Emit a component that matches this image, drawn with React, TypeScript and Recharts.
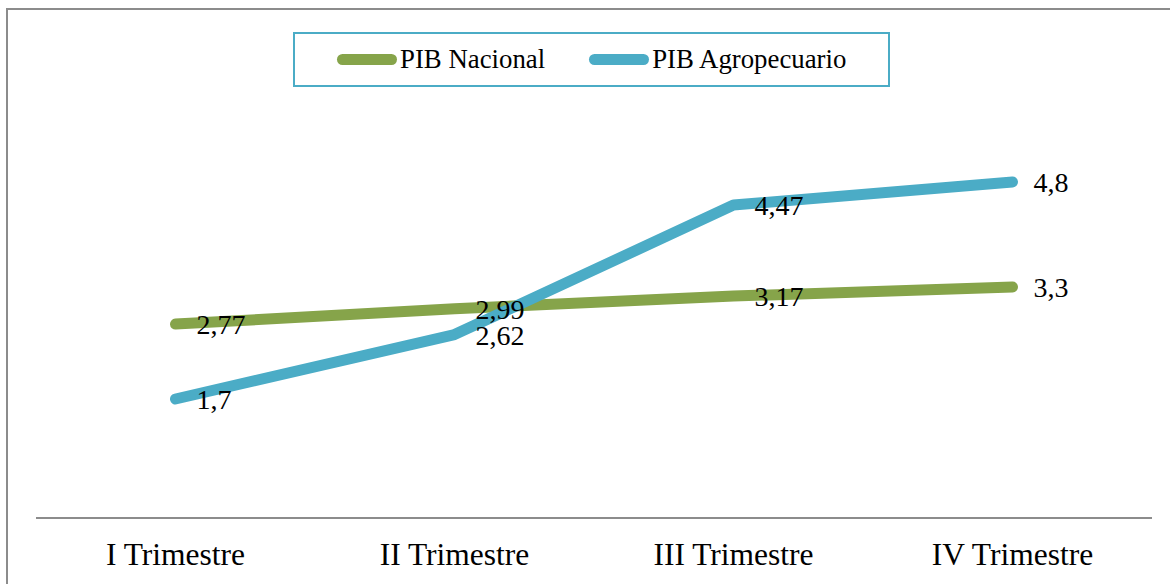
import { LineChart, Line, XAxis, YAxis, Legend, LabelList } from "recharts";

const trimestres = ["I Trimestre", "II Trimestre", "III Trimestre", "IV Trimestre"];
const pibNacional = [2.77, 2.99, 3.17, 3.3];
const pibAgro = [1.7, 2.62, 4.47, 4.8];
const seriesNames = ["PIB Nacional", "PIB Agropecuario"];

const GREEN = "#86A44A";
const BLUE = "#4BACC6";
const FONT = "'Liberation Serif', 'Times New Roman', serif";

const data = trimestres.map((t, i) => ({
  name: t,
  nacional: pibNacional[i],
  agro: pibAgro[i],
}));

const fmt = (v: any) => String(v).replace(".", ",");

function LegendBox({ payload }: any) {
  // keep the same order as the original: Nacional first
  const items = seriesNames
    .map((n) => (payload || []).find((p: any) => p.value === n))
    .filter(Boolean);
  return (
    <div
      style={{
        boxSizing: "border-box",
        width: 597,
        height: 55,
        border: `2px solid ${BLUE}`,
        display: "flex",
        alignItems: "center",
        paddingLeft: 42,
        fontFamily: FONT,
        fontSize: 26.8,
        color: "#000",
      }}
    >
      {items.map((p: any, i: number) => (
        <div key={p.value} style={{ display: "flex", alignItems: "center", marginRight: i === 0 ? 44 : 0 }}>
          <span
            style={{
              display: "inline-block",
              width: 60,
              height: 11,
              borderRadius: 6,
              background: p.color,
              marginRight: 3,
            }}
          />
          <span>{p.value}</span>
        </div>
      ))}
    </div>
  );
}

export default function App() {
  return (
    <div style={{ position: "absolute", left: 0, top: 0, width: 1170, height: 584, overflow: "hidden", background: "#fff" }}>
      <div
        style={{
          position: "absolute",
          left: 6,
          top: 8,
          width: 1200,
          height: 620,
          border: "2px solid #8c8c8c",
        }}
      />
      <div style={{ position: "absolute", left: 0, top: 0 }}>
        <LineChart
          width={1170}
          height={584}
          data={data}
          margin={{ top: 98, right: 18, left: 36, bottom: 6 }}
        >
          <XAxis
            dataKey="name"
            height={60}
            padding={{ left: 139.5, right: 139.5 }}
            axisLine={{ stroke: "#8c8c8c", strokeWidth: 2 }}
            tickLine={false}
            tickSize={0}
            tickMargin={25}
            tick={{ fill: "#000", fontSize: 31.5, fontFamily: FONT }}
            interval={0}
          />
          <YAxis hide domain={[0, 6]} />
          <Legend
            layout="horizontal"
            verticalAlign="middle"
            align="center"
            wrapperStyle={{ left: 293, top: 32, width: 597, height: 55 }}
            content={<LegendBox />}
          />
          <Line
            dataKey="nacional"
            name="PIB Nacional"
            stroke={GREEN}
            strokeWidth={11}
            strokeLinecap="round"
            strokeLinejoin="round"
            dot={false}
            activeDot={false}
            isAnimationActive={false}
          >
            <LabelList
              dataKey="nacional"
              position="right"
              offset={21}
              formatter={fmt}
              style={{ fill: "#000", fontSize: 28, fontFamily: FONT }}
            />
          </Line>
          <Line
            dataKey="agro"
            name="PIB Agropecuario"
            stroke={BLUE}
            strokeWidth={11}
            strokeLinecap="round"
            strokeLinejoin="round"
            dot={false}
            activeDot={false}
            isAnimationActive={false}
          >
            <LabelList
              dataKey="agro"
              position="right"
              offset={21}
              formatter={fmt}
              style={{ fill: "#000", fontSize: 28, fontFamily: FONT }}
            />
          </Line>
        </LineChart>
      </div>
    </div>
  );
}
